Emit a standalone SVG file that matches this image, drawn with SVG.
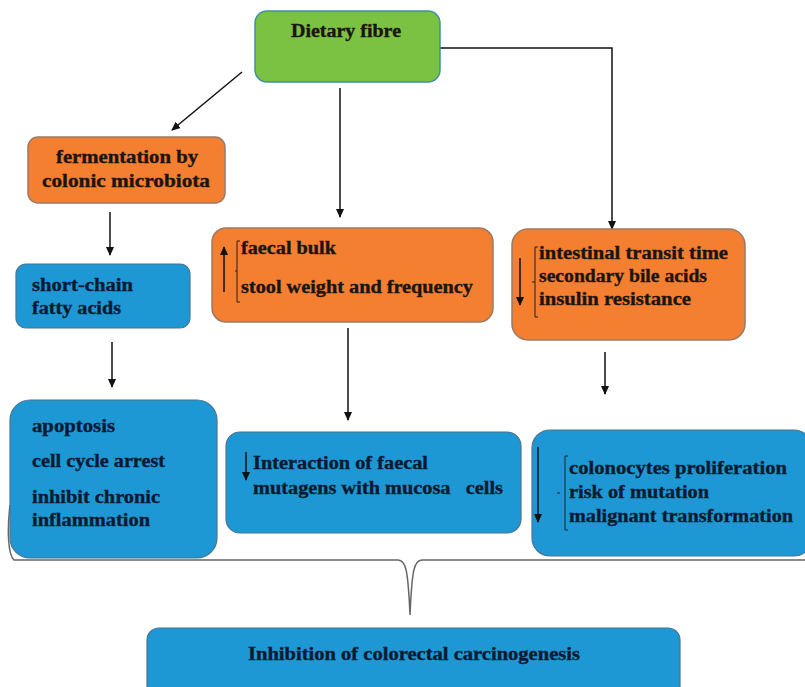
<svg xmlns="http://www.w3.org/2000/svg" width="805" height="687" viewBox="0 0 805 687">
<style>
.green{fill:#7CC242;stroke:#3F8FA8;stroke-width:1.5}
.orange{fill:#F47F30;stroke:#9A7A66;stroke-width:1.5}
.blue{fill:#1E98D5;stroke:#4A7590;stroke-width:1.2}
.t{font-family:"Liberation Serif","DejaVu Serif",serif;font-weight:bold;font-size:18px;fill:#1b1410;stroke:#1b1410;stroke-width:0.35}
.tb{font-family:"Liberation Serif","DejaVu Serif",serif;font-weight:bold;font-size:18px;fill:#0a1a30;stroke:#0a1a30;stroke-width:0.35}
.c{fill:none;stroke:#111;stroke-width:1.5}
.br{fill:none;stroke:#222;stroke-width:1}
</style>
<defs>
<marker id="ah" markerWidth="10" markerHeight="10" refX="8" refY="5" orient="auto" markerUnits="userSpaceOnUse">
<path d="M0,1 L9,5 L0,9 z" fill="#111"/>
</marker>
</defs>
<rect width="805" height="687" fill="#fff"/>
<g id="connectors">
<path class="c" d="M242,72 L172,130" marker-end="url(#ah)"/>
<path class="c" d="M340,88 L340,217" marker-end="url(#ah)"/>
<path class="c" d="M440,48 L612,48 L612,229" marker-end="url(#ah)" stroke="#555"/>
<path class="c" d="M110,212 L110,255" marker-end="url(#ah)"/>
<path class="c" d="M112,342 L112,387" marker-end="url(#ah)"/>
<path class="c" d="M348,328 L348,420" marker-end="url(#ah)"/>
<path class="c" d="M605,352 L605,394" marker-end="url(#ah)"/>
<path d="M10,505 C7,530 8,555 14,560 L398,560 C406,560 408,570 410,615 C412,570 414,560 422,560 L805,560" fill="none" stroke="#666" stroke-width="1.5"/>
</g>
<g id="dietary-fibre">
<rect class="green" x="255" y="11" width="185" height="71" rx="12"/>
<text class="t" x="346" y="37" text-anchor="middle" textLength="110" lengthAdjust="spacingAndGlyphs">Dietary fibre</text>
</g>
<g id="fermentation">
<rect class="orange" x="28" y="137" width="197" height="66" rx="10"/>
<text class="t" x="127" y="163" text-anchor="middle" textLength="142" lengthAdjust="spacingAndGlyphs">fermentation by</text>
<text class="t" x="126" y="187" text-anchor="middle" textLength="168" lengthAdjust="spacingAndGlyphs">colonic microbiota</text>
</g>
<g id="short-chain">
<rect class="blue" x="16" y="264" width="174" height="64" rx="10"/>
<text class="tb" x="32" y="291" textLength="101" lengthAdjust="spacingAndGlyphs">short-chain</text>
<text class="tb" x="32" y="314" textLength="89" lengthAdjust="spacingAndGlyphs">fatty acids</text>
</g>
<g id="faecal-bulk">
<rect class="orange" x="212" y="228" width="281" height="94" rx="14"/>
<path class="c" d="M224,292 L224,247" marker-end="url(#ah)"/>
<path class="br" d="M240,241 L237,241 L237,302 L240,302 M237,271 L235,271"/>
<text class="t" x="241" y="254" textLength="95" lengthAdjust="spacingAndGlyphs">faecal bulk</text>
<text class="t" x="241" y="293" textLength="232" lengthAdjust="spacingAndGlyphs">stool weight and frequency</text>
</g>
<g id="intestinal">
<rect class="orange" x="512" y="229" width="233" height="111" rx="16"/>
<path class="c" d="M520,258 L520,305" marker-end="url(#ah)"/>
<path class="br" d="M538,247 L535,247 L535,317 L538,317 M535,282 L532,282"/>
<text class="t" x="539" y="259" textLength="189" lengthAdjust="spacingAndGlyphs">intestinal transit time</text>
<text class="t" x="539" y="282" textLength="168" lengthAdjust="spacingAndGlyphs">secondary bile acids</text>
<text class="t" x="539" y="305" textLength="152" lengthAdjust="spacingAndGlyphs">insulin resistance</text>
</g>
<g id="apoptosis">
<rect class="blue" x="10" y="400" width="207" height="158" rx="20"/>
<text class="tb" x="32" y="432" textLength="83" lengthAdjust="spacingAndGlyphs">apoptosis</text>
<text class="tb" x="32" y="467" textLength="133" lengthAdjust="spacingAndGlyphs">cell cycle arrest</text>
<text class="tb" x="32" y="503" textLength="128" lengthAdjust="spacingAndGlyphs">inhibit chronic</text>
<text class="tb" x="32" y="526" textLength="118" lengthAdjust="spacingAndGlyphs">inflammation</text>
</g>
<g id="interaction">
<rect class="blue" x="226" y="432" width="295" height="101" rx="14"/>
<path class="c" d="M246,452 L246,480" marker-end="url(#ah)"/>
<text class="tb" x="253" y="469" textLength="175" lengthAdjust="spacingAndGlyphs">Interaction of faecal</text>
<text class="tb" x="253" y="494" textLength="250" lengthAdjust="spacingAndGlyphs" xml:space="preserve">mutagens with mucosa   cells</text>
</g>
<g id="colonocytes">
<rect class="blue" x="532" y="430" width="280" height="126" rx="18"/>
<path class="c" d="M538,447 L538,522" marker-end="url(#ah)"/>
<path class="br" d="M568,456 L565,456 L565,530 L568,530 M557,493 L560,493"/>
<text class="tb" x="569" y="474" textLength="218" lengthAdjust="spacingAndGlyphs">colonocytes proliferation</text>
<text class="tb" x="569" y="498" textLength="140" lengthAdjust="spacingAndGlyphs">risk of mutation</text>
<text class="tb" x="569" y="522" textLength="224" lengthAdjust="spacingAndGlyphs">malignant transformation</text>
</g>
<g id="inhibition">
<rect class="blue" x="147" y="628" width="533" height="72" rx="12"/>
<text class="tb" x="414" y="660" text-anchor="middle" textLength="332" lengthAdjust="spacingAndGlyphs">Inhibition of colorectal carcinogenesis</text>
</g>
</svg>
